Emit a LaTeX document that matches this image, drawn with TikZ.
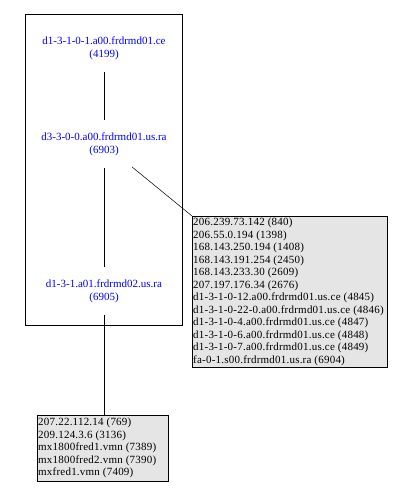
\documentclass[tikz,border=0pt]{standalone}
\usepackage{fontspec}
\setmainfont{Liberation Serif}
\newfontfamily\listfont[LetterSpace=2]{Liberation Serif}
\usetikzlibrary{shapes.geometric}
\definecolor{boxgray}{RGB}{229,229,229}
\definecolor{nodeblue}{RGB}{0,0,255}
\begin{document}
\begin{tikzpicture}[x=1pt,y=-1pt,
  every node/.style={font=\fontsize{11}{12.9}\selectfont},
  host/.style={ellipse,minimum width=152pt,minimum height=48pt,inner sep=0pt,text=nodeblue,align=center},
  listbox/.style={draw,fill=boxgray,inner sep=0pt,anchor=north west},
  listtext/.style={align=left,inner sep=0pt,anchor=west,font=\listfont\fontsize{11}{12.5}\selectfont},
  edge/.style={draw,line width=0.5pt}]
\useasboundingbox (0,0) rectangle (401,494);
\draw[line width=0.6pt] (25,14) rectangle (182,325);
\node[host] (n1) at (104,48) {d1-3-1-0-1.a00.frdrmd01.ce\\(4199)};
\node[host] (n2) at (104,144) {d3-3-0-0.a00.frdrmd01.us.ra\\(6903)};
\node[host] (n3) at (104,291) {d1-3-1.a01.frdrmd02.us.ra\\(6905)};
\node[listbox,minimum width=195pt,minimum height=151pt] (rb) at (192,216) {};
\node[listtext] (rbt) at ([xshift=1pt]rb.west) {206.239.73.142 (840)\\206.55.0.194 (1398)\\168.143.250.194 (1408)\\168.143.191.254 (2450)\\168.143.233.30 (2609)\\207.197.176.34 (2676)\\d1-3-1-0-12.a00.frdrmd01.us.ce (4845)\\d1-3-1-0-22-0.a00.frdrmd01.us.ce (4846)\\d1-3-1-0-4.a00.frdrmd01.us.ce (4847)\\d1-3-1-0-6.a00.frdrmd01.us.ce (4848)\\d1-3-1-0-7.a00.frdrmd01.us.ce (4849)\\fa-0-1.s00.frdrmd01.us.ra (6904)};
\node[listbox,minimum width=131pt,minimum height=66pt] (bb) at (37,415) {};
\node[listtext] (bbt) at ([xshift=1pt]bb.west) {207.22.112.14 (769)\\209.124.3.6 (3136)\\mx1800fred1.vmn (7389)\\mx1800fred2.vmn (7390)\\mxfred1.vmn (7409)};
\path[edge] (n1) -- (n2);
\path[edge] (n2) -- (n3);
\path[edge] (n2) -- (rb.north west);
\path[edge] (n3) -- (n3 |- bb.north);
\end{tikzpicture}
\end{document}
